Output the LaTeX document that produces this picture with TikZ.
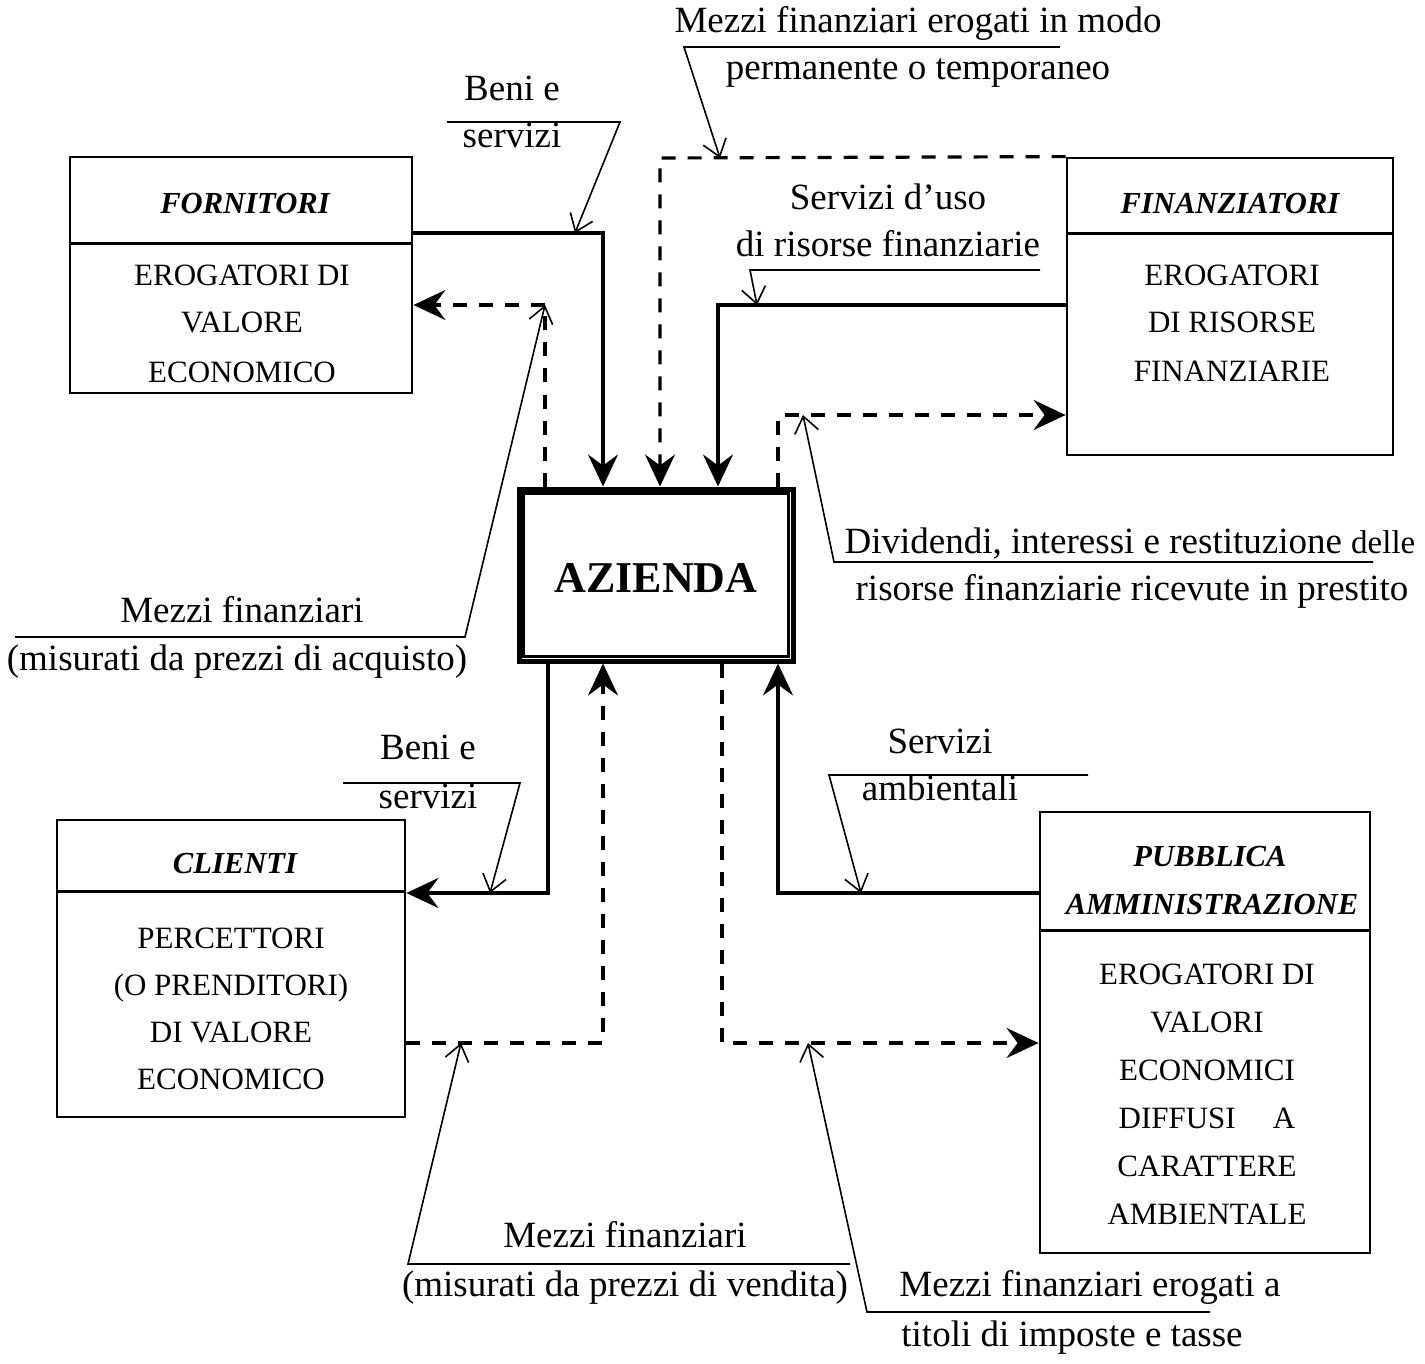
\documentclass[tikz,border=0pt]{standalone}
\usepackage{fontspec}
\setmainfont{Liberation Serif}
\usetikzlibrary{arrows.meta}
\begin{document}
\begin{tikzpicture}[x=0.5pt,y=-0.5pt,
  box/.style={draw, line width=1.4pt, inner sep=0pt, rectangle},
  hdr/.style={line width=1.4pt},
  lbl/.style={anchor=base, font=\fontsize{18.5}{22}\selectfont, inner sep=0pt},
  ttl/.style={anchor=base, font=\fontsize{15.3}{18}\selectfont\bfseries\itshape, inner sep=0pt},
  bod/.style={anchor=base, font=\fontsize{15.5}{18}\selectfont, inner sep=0pt},
  flow/.style={line width=1.6pt, -{Stealth[length=16pt,width=15pt,inset=5.5pt]}},
  dflow/.style={flow, dash pattern=on 7pt off 6pt},
  lead/.style={line width=0.8pt, -{Straight Barb[length=8pt,width=12pt]}},
]
\useasboundingbox (0,0) rectangle (1425,1364);

% boxes
\node[box, minimum width=171pt, minimum height=118pt] (forn) at (241,275) {};
\draw[hdr] ([yshift=-44pt]forn.north west) -- ([yshift=-44pt]forn.north east);
\node[box, minimum width=163pt, minimum height=148.5pt] (fin) at (1230,306.5) {};
\draw[hdr] ([yshift=-38.5pt]fin.north west) -- ([yshift=-38.5pt]fin.north east);
\node[box, line width=2.5pt, minimum width=137pt, minimum height=86pt] (az) at (656,575) {};
\draw[line width=1.5pt] ([shift={(3.5pt,-3.5pt)}]az.north west) rectangle ([shift={(-3.5pt,3.5pt)}]az.south east);
\node[box, minimum width=174pt, minimum height=148.5pt] (cli) at (231,968.5) {};
\draw[hdr] ([yshift=-36.5pt]cli.north west) -- ([yshift=-36.5pt]cli.north east);
\node[box, minimum width=165pt, minimum height=220.5pt] (pa) at (1205,1032.5) {};
\draw[hdr] ([yshift=-60pt]pa.north west) -- ([yshift=-60pt]pa.north east);

% box texts
\node[ttl] (t1) at (245,214) {FORNITORI};
\node[bod] (b11) at (242,286) {EROGATORI DI};
\node[bod] (b12) at (242,333) {VALORE};
\node[bod] (b13) at (242,382) {ECONOMICO};

\node[ttl] (t2) at (1230,214) {FINANZIATORI};
\node[bod] (b21) at (1232,286) {EROGATORI};
\node[bod] (b22) at (1232,333) {DI RISORSE};
\node[bod] (b23) at (1232,381) {FINANZIARIE};

\node[font=\fontsize{22}{26}\selectfont\bfseries] (azt) at (656,578) {AZIENDA};

\node[ttl] (t3) at (235,873) {CLIENTI};
\node[bod] (b31) at (231,948) {PERCETTORI};
\node[bod] (b32) at (231,995) {(O PRENDITORI)};
\node[bod] (b33) at (231,1042) {DI VALORE};
\node[bod] (b34) at (231,1089) {ECONOMICO};

\node[ttl] (t4) at (1210,866) {PUBBLICA};
\node[ttl] (t5) at (1212,914) {AMMINISTRAZIONE};
\node[bod] (b41) at (1207,984) {EROGATORI DI};
\node[bod] (b42) at (1207,1032) {VALORI};
\node[bod] (b43) at (1207,1080) {ECONOMICI};
\node[bod] (b44) at (1207,1128) {DIFFUSI\hspace{1.2em}A};
\node[bod] (b45) at (1207,1176) {CARATTERE};
\node[bod] (b46) at (1207,1224) {AMBIENTALE};

% flows
\coordinate (f1) at (603,233);
\draw[flow] (forn.east |- f1) -- (f1) -- (f1 |- az.north);
\coordinate (f2) at (545,305);
\draw[dflow] (f2 |- az.north) -- (f2) -- (forn.east |- f2);
\coordinate (f3) at (660,158);
\draw[dflow] (fin.north west) -- (f3) -- (f3 |- az.north);
\coordinate (f4) at (718,305);
\draw[flow] (fin.west |- f4) -- (f4) -- (f4 |- az.north);
\coordinate (f5) at (778,415);
\draw[dflow] (f5 |- az.north) -- (f5) -- (fin.west |- f5);
\coordinate (f6) at (548,893);
\draw[flow] (f6 |- az.south) -- (f6) -- (cli.east |- f6);
\coordinate (f7) at (603,1043);
\draw[dflow] (cli.east |- f7) -- (f7) -- (f7 |- az.south);
\coordinate (f8) at (722,1043);
\draw[dflow] (f8 |- az.south) -- (f8) -- (pa.west |- f8);
\coordinate (f9) at (778,893);
\draw[flow] (pa.west |- f9) -- (f9) -- (f9 |- az.south);

% labels
\node[lbl] (l1a) at (512,101) {Beni e};
\node[lbl] (l1b) at (512,148) {servizi};
\draw[lead] (447,122) -- (620,122) -- (575,233);

\node[lbl] (l2a) at (918,33) {Mezzi finanziari erogati in modo};
\node[lbl] (l2b) at (918,80) {permanente o temporaneo};
\draw[lead] (1060,47) -- (684,47) -- (720,158);

\node[lbl] (l3a) at (888,210) {Servizi d’uso};
\node[lbl] (l3b) at (888,257) {di risorse finanziarie};
\draw[lead] (1040,270) -- (750,270) -- (757,305);

\node[lbl] (l4a) at (242,622) {Mezzi finanziari};
\node[lbl] (l4b) at (237,670) {(misurati da prezzi di acquisto)};
\draw[lead] (15,637) -- (465,637) -- (545,305);

\node[lbl] (l5a) at (1130,553) {Dividendi, interessi e restituzione {\fontsize{16.5}{20}\selectfont delle}};
\node[lbl] (l5b) at (1132,600) {risorse finanziarie ricevute in prestito};
\draw[lead] (1373,562) -- (834,562) -- (803,415);

\node[lbl] (l6a) at (428,759) {Beni e};
\node[lbl] (l6b) at (428,808) {servizi};
\draw[lead] (343,783) -- (520,783) -- (490,893);

\node[lbl] (l7a) at (940,753) {Servizi};
\node[lbl] (l7b) at (940,800) {ambientali};
\draw[lead] (1088,775) -- (829,775) -- (861,893);

\node[lbl] (l8a) at (625,1247) {Mezzi finanziari};
\node[lbl] (l8b) at (625,1296) {(misurati da prezzi di vendita)};
\draw[lead] (850,1264) -- (408,1264) -- (461,1043);

\node[lbl] (l9a) at (1090,1296) {Mezzi finanziari erogati a};
\node[lbl] (l9b) at (1072,1346) {titoli di imposte e tasse};
\draw[lead] (1210,1312) -- (867,1312) -- (808,1043);
\end{tikzpicture}
\end{document}
